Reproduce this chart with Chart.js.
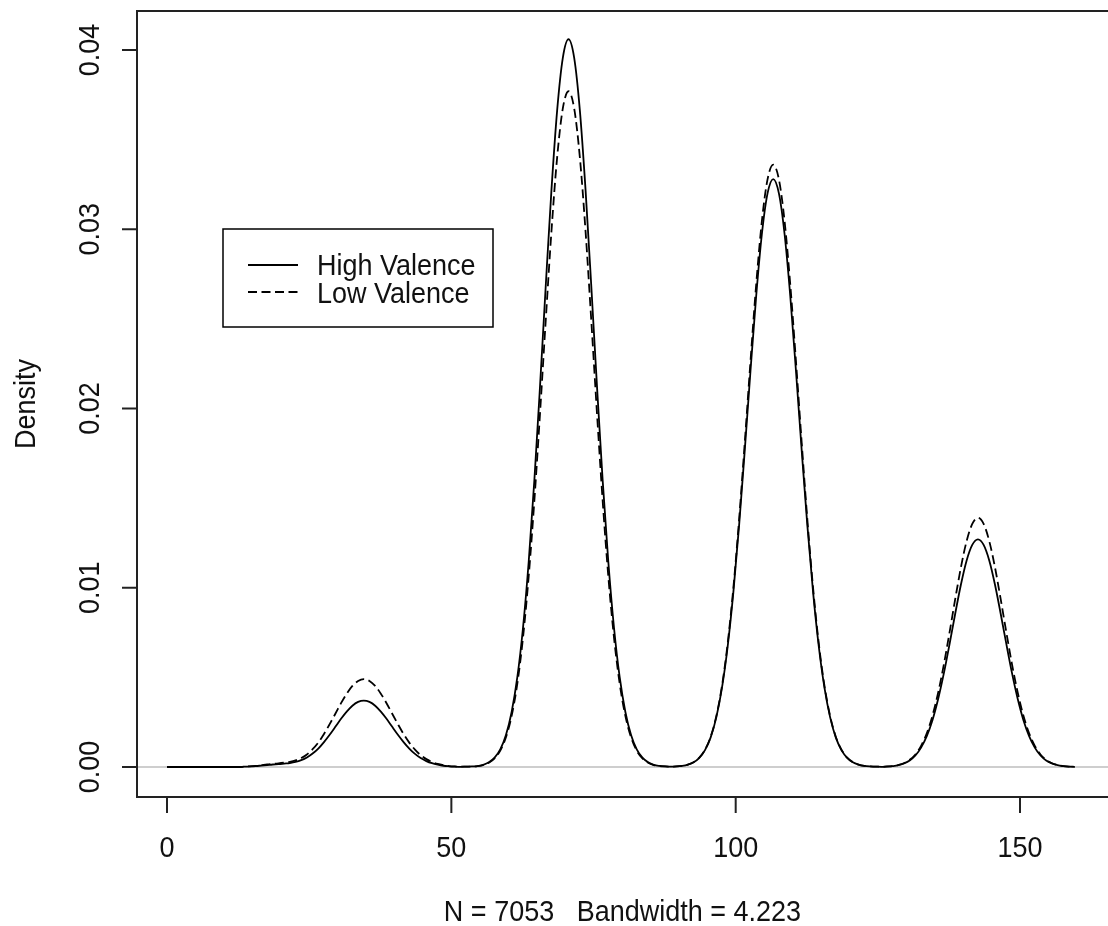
<!DOCTYPE html>
<html>
<head>
<meta charset="utf-8">
<title>Density: High vs Low Valence</title>
<script src="https://cdn.jsdelivr.net/npm/chart.js@4.4.1/dist/chart.umd.min.js"></script>
<style>
  html, body { margin: 0; padding: 0; background: #ffffff; }
  canvas { display: block; }
</style>
</head>
<body>
<canvas id="chart" width="1108" height="926"></canvas>
<script>
// density estimate x grid (one row = 10 points)
const xValues = [
  0,
  0.6, 1.6, 2.6, 3.6, 4.6, 5.6, 6.6, 7.6, 8.6, 9.6,
  10.6, 11.6, 12.6, 13.6, 14.6, 15.6, 16.6, 17.6, 18.6, 19.6,
  20.6, 21.6, 22.6, 23.6, 24.6, 25.6, 26.6, 27.6, 28.6, 29.6,
  30.6, 31.6, 32.6, 33.6, 34.6, 35.6, 36.6, 37.6, 38.6, 39.6,
  40.6, 41.6, 42.6, 43.6, 44.6, 45.6, 46.6, 47.6, 48.6, 49.6,
  50.6, 51.6, 52.6, 53.6, 54.6, 55.6, 56.6, 57.6, 58.6, 59.6,
  60.6, 61.6, 62.6, 63.6, 64.6, 65.6, 66.6, 67.6, 68.6, 69.6,
  70.6, 71.6, 72.6, 73.6, 74.6, 75.6, 76.6, 77.6, 78.6, 79.6,
  80.6, 81.6, 82.6, 83.6, 84.6, 85.6, 86.6, 87.6, 88.6, 89.6,
  90.6, 91.6, 92.6, 93.6, 94.6, 95.6, 96.6, 97.6, 98.6, 99.6,
  100.6, 101.6, 102.6, 103.6, 104.6, 105.6, 106.6, 107.6, 108.6, 109.6,
  110.6, 111.6, 112.6, 113.6, 114.6, 115.6, 116.6, 117.6, 118.6, 119.6,
  120.6, 121.6, 122.6, 123.6, 124.6, 125.6, 126.6, 127.6, 128.6, 129.6,
  130.6, 131.6, 132.6, 133.6, 134.6, 135.6, 136.6, 137.6, 138.6, 139.6,
  140.6, 141.6, 142.6, 143.6, 144.6, 145.6, 146.6, 147.6, 148.6, 149.6,
  150.6, 151.6, 152.6, 153.6, 154.6, 155.6, 156.6, 157.6, 158.6, 159.6
];

// High Valence (solid line)
const highValence = [
  0,
  0, 0, 0, 0, 0, 0, 0, 0, 0, 0,
  0, 0, 0, 0.00002, 0.00003, 0.00005, 0.00008, 0.00011, 0.00014, 0.00016,
  0.00019, 0.00022, 0.00028, 0.00038, 0.00053, 0.00075, 0.00103, 0.00139, 0.00180, 0.00224,
  0.00269, 0.00309, 0.00342, 0.00363, 0.00370, 0.00363, 0.00342, 0.00309, 0.00269, 0.00224,
  0.00180, 0.00139, 0.00103, 0.00073, 0.00050, 0.00033, 0.00021, 0.00013, 0.00007, 0.00004,
  0.00002, 0.00001, 0.00002, 0.00003, 0.00005, 0.00012, 0.00026, 0.00052, 0.00098, 0.00178,
  0.00307, 0.00501, 0.00777, 0.01145, 0.01602, 0.02129, 0.02686, 0.03218, 0.03662, 0.03956,
  0.04060, 0.03956, 0.03662, 0.03218, 0.02686, 0.02129, 0.01602, 0.01145, 0.00777, 0.00501,
  0.00307, 0.00178, 0.00098, 0.00052, 0.00026, 0.00012, 0.00006, 0.00003, 0.00002, 0.00003,
  0.00006, 0.00013, 0.00026, 0.00051, 0.00094, 0.00165, 0.00278, 0.00444, 0.00675, 0.00978,
  0.01348, 0.01769, 0.02209, 0.02626, 0.02972, 0.03200, 0.03280, 0.03200, 0.02972, 0.02626,
  0.02209, 0.01769, 0.01348, 0.00978, 0.00675, 0.00444, 0.00278, 0.00165, 0.00094, 0.00051,
  0.00026, 0.00013, 0.00006, 0.00003, 0.00002, 0.00001, 0.00002, 0.00005, 0.00010, 0.00020,
  0.00036, 0.00064, 0.00108, 0.00172, 0.00261, 0.00379, 0.00522, 0.00685, 0.00855, 0.01017,
  0.01151, 0.01239, 0.01270, 0.01239, 0.01151, 0.01017, 0.00855, 0.00685, 0.00522, 0.00379,
  0.00261, 0.00172, 0.00108, 0.00064, 0.00036, 0.00020, 0.00010, 0.00005, 0.00002, 0.00001
];

// Low Valence (dashed line)
const lowValence = [
  0,
  0, 0, 0, 0, 0, 0, 0, 0, 0, 0,
  0, 0, 0, 0.00002, 0.00004, 0.00006, 0.00010, 0.00014, 0.00017, 0.00020,
  0.00024, 0.00029, 0.00037, 0.00050, 0.00070, 0.00099, 0.00136, 0.00184, 0.00239, 0.00297,
  0.00356, 0.00409, 0.00452, 0.00480, 0.00490, 0.00480, 0.00452, 0.00409, 0.00356, 0.00297,
  0.00239, 0.00184, 0.00136, 0.00097, 0.00066, 0.00044, 0.00028, 0.00017, 0.00010, 0.00005,
  0.00003, 0.00002, 0.00002, 0.00003, 0.00005, 0.00011, 0.00024, 0.00048, 0.00091, 0.00166,
  0.00285, 0.00465, 0.00722, 0.01064, 0.01488, 0.01977, 0.02494, 0.02988, 0.03400, 0.03674,
  0.03770, 0.03674, 0.03400, 0.02988, 0.02494, 0.01977, 0.01488, 0.01064, 0.00722, 0.00465,
  0.00285, 0.00166, 0.00091, 0.00048, 0.00024, 0.00011, 0.00005, 0.00003, 0.00002, 0.00003,
  0.00006, 0.00013, 0.00027, 0.00052, 0.00096, 0.00169, 0.00285, 0.00455, 0.00692, 0.01002,
  0.01381, 0.01812, 0.02263, 0.02690, 0.03044, 0.03278, 0.03360, 0.03278, 0.03044, 0.02690,
  0.02263, 0.01812, 0.01381, 0.01002, 0.00692, 0.00455, 0.00285, 0.00169, 0.00096, 0.00052,
  0.00027, 0.00013, 0.00006, 0.00003, 0.00002, 0.00002, 0.00003, 0.00005, 0.00011, 0.00021,
  0.00040, 0.00070, 0.00118, 0.00188, 0.00286, 0.00414, 0.00571, 0.00750, 0.00936, 0.01113,
  0.01259, 0.01356, 0.01390, 0.01356, 0.01259, 0.01113, 0.00936, 0.00750, 0.00571, 0.00414,
  0.00286, 0.00188, 0.00118, 0.00070, 0.00040, 0.00021, 0.00011, 0.00005, 0.00002, 0.00001
];

const xTicks = [0, 50, 100, 150];
const xTickLabels = ['0', '50', '100', '150'];
const yTicks = [0, 0.01, 0.02, 0.03, 0.04];
const yTickLabels = ['0.00', '0.01', '0.02', '0.03', '0.04'];
const legendLabels = ['High Valence', 'Low Valence'];
const xTitle = 'N = 7053   Bandwidth = 4.223';
const yTitle = 'Density';

const FONT = '27px "Liberation Sans", Arial, sans-serif';
const INK = '#111111';
const LOW_DASH = [9, 4.5];

// R-style text: slightly tall glyphs
function rText(ctx, str, x, y, angle, align) {
  ctx.save();
  ctx.translate(x, y);
  ctx.rotate(angle);
  ctx.scale(1, 1.06);
  ctx.font = FONT;
  ctx.fillStyle = INK;
  ctx.textAlign = align;
  ctx.textBaseline = 'alphabetic';
  ctx.fillText(str, 0, 0);
  ctx.restore();
}

const rPlotFrame = {
  id: 'rPlotFrame',
  beforeDatasetsDraw(chart) {
    const { ctx, chartArea, scales } = chart;
    const y0 = scales.y.getPixelForValue(0);
    // zero line
    ctx.save();
    ctx.strokeStyle = '#bebebe';
    ctx.lineWidth = 1.5;
    ctx.beginPath();
    ctx.moveTo(chartArea.left, y0);
    ctx.lineTo(chartArea.right, y0);
    ctx.stroke();
    ctx.restore();
  },
  afterDraw(chart) {
    const { ctx, chartArea, scales } = chart;
    const { left, top, right, bottom } = chartArea;

    ctx.save();
    ctx.strokeStyle = '#222222';
    ctx.lineWidth = 2;
    // plot box (right side runs off the canvas like the original)
    ctx.strokeRect(left, top, right - left + 10, bottom - top);

    // x axis ticks + labels
    xTicks.forEach((v, i) => {
      const px = scales.x.getPixelForValue(v);
      ctx.beginPath();
      ctx.moveTo(px, bottom);
      ctx.lineTo(px, bottom + 16);
      ctx.stroke();
      rText(ctx, xTickLabels[i], px, 857, 0, 'center');
    });

    // y axis ticks + labels
    yTicks.forEach((v, i) => {
      const py = scales.y.getPixelForValue(v);
      ctx.beginPath();
      ctx.moveTo(left, py);
      ctx.lineTo(left - 15, py);
      ctx.stroke();
      rText(ctx, yTickLabels[i], 99, py, -Math.PI / 2, 'center');
    });

    // axis titles
    rText(ctx, xTitle, (left + right) / 2, 921, 0, 'center');
    rText(ctx, yTitle, 35, (top + bottom) / 2, -Math.PI / 2, 'center');

    // legend
    ctx.strokeStyle = '#000000';
    ctx.lineWidth = 1.5;
    ctx.strokeRect(223, 229, 270, 98);
    ctx.lineWidth = 1.8;
    ctx.beginPath();
    ctx.moveTo(248, 265);
    ctx.lineTo(298, 265);
    ctx.stroke();
    ctx.setLineDash(LOW_DASH);
    ctx.beginPath();
    ctx.moveTo(248, 292);
    ctx.lineTo(298, 292);
    ctx.stroke();
    ctx.setLineDash([]);
    rText(ctx, legendLabels[0], 317, 275, 0, 'left');
    rText(ctx, legendLabels[1], 317, 302.5, 0, 'left');
    ctx.restore();
  }
};

const ctx = document.getElementById('chart').getContext('2d');

new Chart(ctx, {
  type: 'line',
  data: {
    datasets: [
      {
        label: legendLabels[0],
        data: xValues.map((x, i) => ({ x: x, y: highValence[i] })),
        borderColor: '#000000',
        borderWidth: 1.8,
        pointRadius: 0,
        fill: false,
        cubicInterpolationMode: 'monotone'
      },
      {
        label: legendLabels[1],
        data: xValues.map((x, i) => ({ x: x, y: lowValence[i] })),
        borderColor: '#000000',
        borderWidth: 1.8,
        borderDash: LOW_DASH,
        pointRadius: 0,
        fill: false,
        cubicInterpolationMode: 'monotone'
      }
    ]
  },
  options: {
    responsive: false,
    animation: false,
    layout: {
      padding: { left: 137, top: 11, right: 0, bottom: 129 }
    },
    plugins: {
      legend: { display: false },
      tooltip: { enabled: false }
    },
    scales: {
      x: { type: 'linear', min: -5.28, max: 165.47, display: false },
      y: { type: 'linear', min: -0.001674, max: 0.042176, display: false }
    }
  },
  plugins: [rPlotFrame]
});
</script>
</body>
</html>
